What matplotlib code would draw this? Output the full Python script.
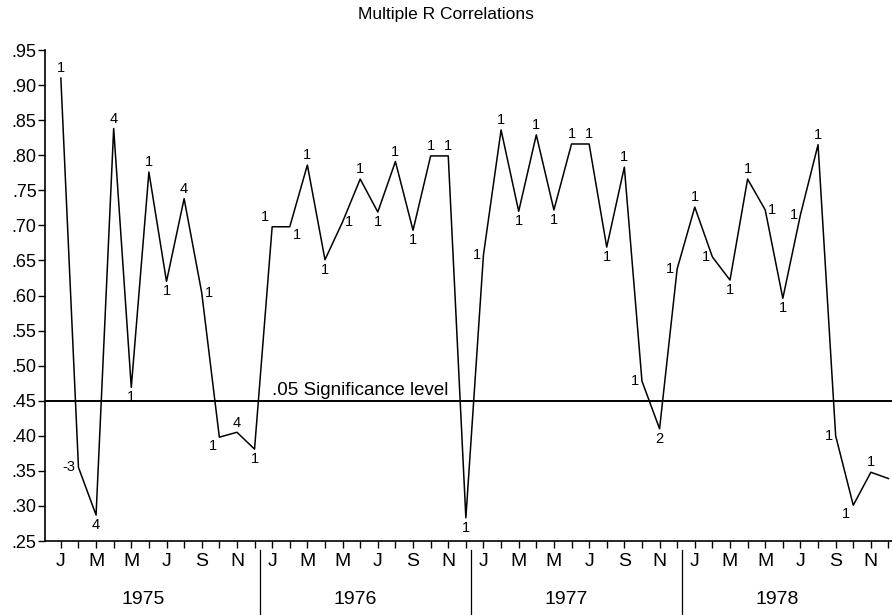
import numpy as np
import matplotlib
matplotlib.use("Agg")
import matplotlib.pyplot as plt
from matplotlib.transforms import blended_transform_factory

plt.rcParams['font.family'] = ['Liberation Sans', 'DejaVu Sans']

# monthly multiple R, Jan 1975 .. Dec 1978
years = ['1975', '1976', '1977', '1978']
month_letters = ['J', 'M', 'M', 'J', 'S', 'N']
r_values = [0.910, 0.355, 0.287, 0.838, 0.469, 0.776, 0.620, 0.738, 0.604, 0.398, 0.405, 0.381,
            0.698, 0.698, 0.786, 0.651, 0.705, 0.766, 0.719, 0.791, 0.693, 0.799, 0.799, 0.283,
            0.658, 0.836, 0.720, 0.829, 0.722, 0.816, 0.816, 0.669, 0.783, 0.478, 0.410, 0.638,
            0.726, 0.655, 0.622, 0.766, 0.722, 0.596, 0.715, 0.815, 0.400, 0.301, 0.348, 0.339]
point_labels = ['1', '-3', '4', '4', '1', '1', '1', '4', '1', '1', '4', '1',
                '1', '1', '1', '1', '1', '1', '1', '1', '1', '1', '1', '1',
                '1', '1', '1', '1', '1', '1', '1', '1', '1', '1', '2', '1',
                '1', '1', '1', '1', '1', '1', '1', '1', '1', '1', '1', '']
signif_level = 0.45

# where each little label sits relative to its point
places = ['a', 'l', 'b', 'a', 'b', 'a', 'b', 'a', 'r', 'bl', 'a', 'b',
          'al', 'br', 'a', 'b', 'r', 'a', 'b', 'a', 'b', 'a', 'a', 'b',
          'l', 'a', 'b', 'a', 'b', 'a', 'a', 'b', 'a', 'l', 'b', 'l',
          'a', 'l', 'b', 'a', 'r', 'b', 'l', 'a', 'l', 'bl', 'a', '']
offsets = {'a': (0, 2, 'center', 'bottom'), 'b': (0, -2, 'center', 'top'),
           'l': (-2, 0, 'right', 'center'), 'r': (2, 0, 'left', 'center'),
           'al': (-2, 2, 'right', 'bottom'), 'br': (2, -1, 'left', 'top'),
           'bl': (-2, -1, 'right', 'top'), '': (0, 0, 'center', 'center')}

x = np.arange(len(r_values))

fig = plt.figure(figsize=(8.92, 6.15), dpi=100)
ax = fig.add_axes([45 / 892, 1 - 541 / 615, 1 - 45 / 892, 491 / 615])

ax.plot(x, r_values, color='black', lw=1.1)
ax.axhline(signif_level, color='black', lw=1.4)
ax.text(12.0, signif_level + 0.002, '.05 Significance level', fontsize=13.5,
        ha='left', va='bottom')

for xi, yi, lab, p in zip(x, r_values, point_labels, places):
    if not lab:
        continue
    dx, dy, ha, va = offsets[p]
    ax.annotate(lab, (xi, yi), xytext=(dx, dy), textcoords='offset points',
                ha=ha, va=va, fontsize=10.5)

ax.set_xlim(-0.9, 47.2)
ax.set_ylim(0.25, 0.95)

yt = np.arange(0.25, 0.951, 0.05)
ax.set_yticks(yt)
ax.set_yticklabels(['.%02d' % round(v * 100) for v in yt], fontsize=13)
ax.tick_params(axis='y', length=5, width=1, pad=1)

ax.set_xticks(x, minor=True)
major = np.arange(0, len(r_values), 2)
ax.set_xticks(major)
ax.set_xticklabels(month_letters * len(years), fontsize=14)
ax.tick_params(axis='x', which='both', length=5, width=1, pad=4)

for s in ['top', 'right']:
    ax.spines[s].set_visible(False)
for s in ['left', 'bottom']:
    ax.spines[s].set_linewidth(1.2)

trans = blended_transform_factory(ax.transData, ax.transAxes)
for k, yr in enumerate(years):
    ax.text(12 * k + 4.7, -0.12, yr, transform=trans, ha='center', va='center',
            fontsize=14)
    if k > 0:
        ax.plot([12 * k - 0.7, 12 * k - 0.7], [-0.018, -0.152], transform=trans,
                color='black', lw=0.9, clip_on=False)

fig.text(0.5, 1 - 14 / 615, 'Multiple R Correlations', ha='center', va='center',
         fontsize=12.5)

fig.savefig('out.png', dpi=100)
